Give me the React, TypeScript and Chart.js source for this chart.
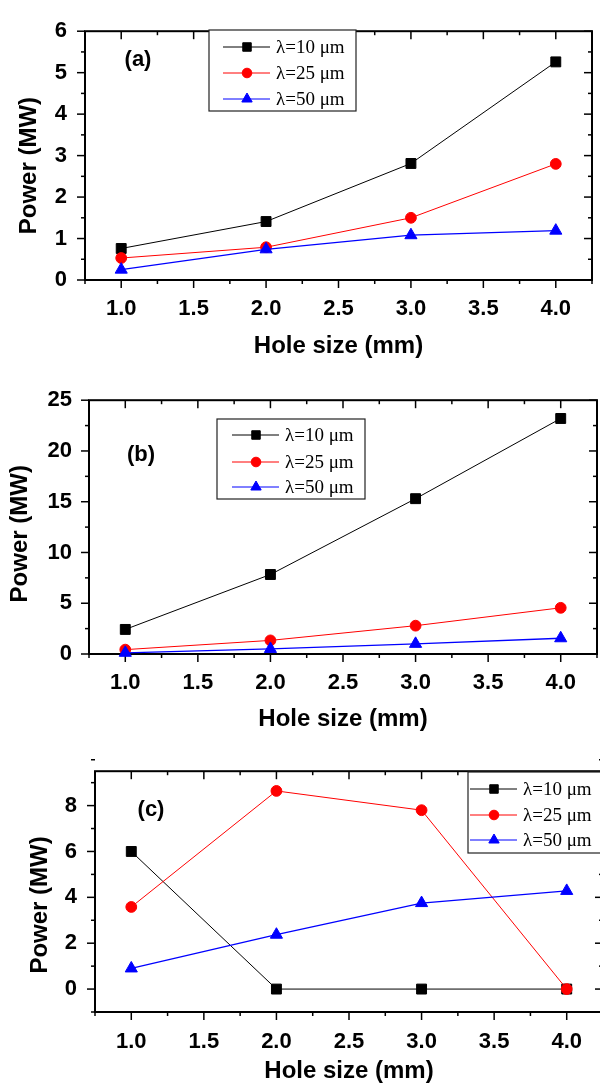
import React, { useEffect, useRef } from 'react';
import { Chart, registerables } from 'chart.js';
import { drawPoint } from 'chart.js/helpers';

Chart.register(...registerables);

// ---------- data ----------
const holeSizes = [1.0, 2.0, 3.0, 4.0];
const seriesLabels = ['λ=10 μm', 'λ=25 μm', 'λ=50 μm'];
const xTickValues = [1.0, 1.5, 2.0, 2.5, 3.0, 3.5, 4.0];
const panelLabels = ['(a)', '(b)', '(c)'];
const xTitle = 'Hole size (mm)';
const yTitle = 'Power (MW)';

const powerA10 = [0.76, 1.41, 2.81, 5.26];
const powerA25 = [0.53, 0.79, 1.5, 2.8];
const powerA50 = [0.25, 0.74, 1.08, 1.19];
const yTicksA = [0, 1, 2, 3, 4, 5, 6];

const powerB10 = [2.42, 7.83, 15.3, 23.2];
const powerB25 = [0.43, 1.34, 2.79, 4.55];
const powerB50 = [0.12, 0.5, 1.0, 1.55];
const yTicksB = [0, 5, 10, 15, 20, 25];

const powerC10 = [6.0, 0, 0, 0];
const powerC25 = [3.58, 8.64, 7.8, 0];
const powerC50 = [0.9, 2.37, 3.75, 4.28];
const yTicksC = [0, 2, 4, 6, 8];

// ---------- styles ----------
const colors = ['#000000', '#ff0000', '#0000ff'];
const pointStyles = ['rect', 'circle', 'triangle'];
const pointRadii = [7, 5.4, 7];
const legendRadii = [6, 4.8, 6];
const SANS = '"Liberation Sans", Arial, Helvetica, sans-serif';
const SERIF = '"Liberation Serif", "Times New Roman", serif';

type Layout = {
  top: number; width: number; height: number;
  padding: { left: number; right: number; top: number; bottom: number };
  yWidth: number; xHeight: number;
  yMin: number; yMax: number; yMinor: number;
  yTicks: number[];
  yTickPad: number; xTickPad: number;
  yTitleSpaces: number;
  legend: { box: number[]; rows: number[]; x1: number; x2: number; mx: number; tx: number };
  label: number[];
  labelText: string;
};

const layouts: Layout[] = [
  {
    top: 0, width: 600, height: 365,
    padding: { left: 15, right: 8, top: 17, bottom: 4 },
    yWidth: 70, xHeight: 81,
    yMin: 0, yMax: 6, yMinor: 0.5, yTicks: yTicksA,
    yTickPad: 18, xTickPad: 16, yTitleSpaces: 3,
    legend: { box: [209, 30, 147, 81], rows: [47, 73, 99], x1: 223, x2: 270, mx: 247, tx: 276 },
    label: [138, 60], labelText: panelLabels[0],
  },
  {
    top: 370, width: 600, height: 370,
    padding: { left: 6, right: 3, top: 30, bottom: 6 },
    yWidth: 83, xHeight: 80,
    yMin: 0, yMax: 25, yMinor: 2.5, yTicks: yTicksB,
    yTickPad: 17, xTickPad: 16, yTitleSpaces: 2,
    legend: { box: [217, 49, 148, 80], rows: [65, 92, 117], x1: 232, x2: 279, mx: 256, tx: 285 },
    label: [141, 85], labelText: panelLabels[1],
  },
  {
    top: 740, width: 610, height: 350,
    padding: { left: 26, right: 7, top: 31, bottom: 4 },
    yWidth: 69, xHeight: 74,
    yMin: -1, yMax: 9.5, yMinor: 1, yTicks: yTicksC,
    yTickPad: 18, xTickPad: 17, yTitleSpaces: 4,
    legend: { box: [468, 32, 180, 81], rows: [49, 75, 100], x1: 470, x2: 517, mx: 494, tx: 523 },
    label: [151, 70], labelText: panelLabels[2],
  },
];

const panelSeries = [
  [powerA10, powerA25, powerA50],
  [powerB10, powerB25, powerB50],
  [powerC10, powerC25, powerC50],
];

// ---------- plugins ----------
const framePlugin = {
  id: 'originFrame',
  beforeDatasetsDraw(chart: any, _args: any, opts: any) {
    const { ctx, chartArea } = chart;
    const { left, right, top, bottom } = chartArea;
    const xs = chart.scales.x;
    const ys = chart.scales.y;
    const MAJ = 8, MIN = 4;
    ctx.save();
    ctx.strokeStyle = '#000';
    ctx.lineWidth = 1.5;
    const seg = (x1: number, y1: number, x2: number, y2: number) => {
      ctx.beginPath(); ctx.moveTo(x1, y1); ctx.lineTo(x2, y2); ctx.stroke();
    };
    const xMajors = xs.ticks.map((t: any) => t.value);
    const nx = Math.round((xs.max - xs.min) / opts.xMinor);
    for (let i = 0; i <= nx; i++) {
      const v = xs.min + i * opts.xMinor;
      const isMaj = xMajors.some((m: number) => Math.abs(m - v) < 1e-6);
      const len = isMaj ? MAJ : MIN;
      const p = xs.getPixelForValue(v);
      seg(p, bottom, p, bottom + len);
      seg(p, top, p, top + len);
    }
    const yMajors = ys.ticks.map((t: any) => t.value);
    const ny = Math.round((ys.max - ys.min) / opts.yMinor);
    for (let i = 0; i <= ny; i++) {
      const v = ys.min + i * opts.yMinor;
      const isMaj = yMajors.some((m: number) => Math.abs(m - v) < 1e-6);
      const len = isMaj ? MAJ : MIN;
      const p = ys.getPixelForValue(v);
      seg(left - len, p, left, p);
      seg(right - len, p, right, p);
    }
    ctx.lineWidth = 2;
    ctx.strokeRect(left, top, right - left, bottom - top);
    ctx.restore();
  },
};

const legendPlugin = {
  id: 'boxLegend',
  afterDatasetsDraw(chart: any, _args: any, opts: any) {
    const { ctx } = chart;
    const lg = opts.legend;
    ctx.save();
    ctx.fillStyle = '#ffffff';
    ctx.fillRect(lg.box[0], lg.box[1], lg.box[2], lg.box[3]);
    ctx.strokeStyle = '#222';
    ctx.lineWidth = 1.2;
    ctx.strokeRect(lg.box[0], lg.box[1], lg.box[2], lg.box[3]);
    chart.data.datasets.forEach((ds: any, i: number) => {
      const y = lg.rows[i];
      ctx.strokeStyle = ds.borderColor;
      ctx.lineWidth = 1;
      ctx.beginPath(); ctx.moveTo(lg.x1, y); ctx.lineTo(lg.x2, y); ctx.stroke();
      ctx.fillStyle = ds.pointBackgroundColor;
      ctx.strokeStyle = ds.pointBorderColor;
      drawPoint(ctx, { pointStyle: ds.pointStyle, rotation: 0, radius: opts.legendRadii[i], borderWidth: 1 }, lg.mx, y);
      ctx.fillStyle = '#000';
      ctx.font = `19px ${SERIF}`;
      ctx.textAlign = 'left';
      ctx.textBaseline = 'middle';
      ctx.fillText(ds.label, lg.tx, y + 1);
    });
    ctx.fillStyle = '#000';
    ctx.font = `bold 22px ${SANS}`;
    ctx.textAlign = 'center';
    ctx.textBaseline = 'middle';
    ctx.fillText(opts.labelText, opts.label[0], opts.label[1]);
    ctx.restore();
  },
};

function Panel({ L, series }: { L: Layout; series: number[][] }) {
  const ref = useRef<HTMLCanvasElement>(null);
  useEffect(() => {
    const canvas = ref.current;
    if (!canvas) return;
    const chart = new Chart(canvas, {
      type: 'line',
      data: {
        datasets: series.map((vals, i) => ({
          label: seriesLabels[i],
          data: holeSizes.map((x, j) => ({ x, y: vals[j] })),
          borderColor: colors[i],
          backgroundColor: colors[i],
          pointBackgroundColor: colors[i],
          pointBorderColor: colors[i],
          pointStyle: pointStyles[i],
          pointRadius: pointRadii[i],
          pointBorderWidth: 1,
          borderWidth: i === 2 ? 1.3 : 1,
          tension: 0,
          clip: false,
          order: 2 - i,
        })),
      },
      options: {
        responsive: false,
        animation: false,
        devicePixelRatio: 1,
        layout: { padding: L.padding, autoPadding: false },
        plugins: {
          legend: { display: false },
          tooltip: { enabled: false },
          originFrame: { xMinor: 0.25, yMinor: L.yMinor },
          boxLegend: { legend: L.legend, label: L.label, labelText: L.labelText, legendRadii },
        },
        scales: {
          x: {
            type: 'linear',
            position: 'bottom',
            min: 0.75,
            max: 4.25,
            afterBuildTicks: (s: any) => { s.ticks = xTickValues.map((v) => ({ value: v })); },
            afterFit: (s: any) => { s.height = L.xHeight; },
            grid: { display: false, drawTicks: false, tickLength: 0 },
            border: { display: false },
            ticks: {
              autoSkip: false,
              maxRotation: 0,
              padding: L.xTickPad,
              color: '#000',
              font: { family: SANS, size: 22, weight: 'bold' },
              callback: (v: any) => Number(v).toFixed(1),
            },
            title: {
              display: true,
              text: xTitle,
              color: '#000',
              padding: { top: 0, bottom: 0 },
              font: { family: SANS, size: 24, weight: 'bold' },
            },
          },
          y: {
            type: 'linear',
            position: 'left',
            min: L.yMin,
            max: L.yMax,
            afterBuildTicks: (s: any) => { s.ticks = L.yTicks.map((v) => ({ value: v })); },
            afterFit: (s: any) => { s.width = L.yWidth; },
            grid: { display: false, drawTicks: false, tickLength: 0 },
            border: { display: false },
            ticks: {
              autoSkip: false,
              padding: L.yTickPad,
              color: '#000',
              font: { family: SANS, size: 22, weight: 'bold' },
              callback: (v: any) => String(v),
            },
            title: {
              display: true,
              text: yTitle + ' '.repeat(L.yTitleSpaces),
              color: '#000',
              padding: { top: 0, bottom: 0 },
              font: { family: SANS, size: 24, weight: 'bold' },
            },
          },
        },
      } as any,
      plugins: [framePlugin, legendPlugin],
    });
    return () => chart.destroy();
  }, []);
  return (
    <canvas
      ref={ref}
      width={L.width}
      height={L.height}
      style={{ position: 'absolute', left: 0, top: L.top, width: L.width, height: L.height }}
    />
  );
}

export default function App() {
  return (
    <div
      style={{
        position: 'fixed', left: 0, top: 0, width: 600, height: 1084,
        overflow: 'hidden', background: '#ffffff',
      }}
    >
      {layouts.map((L, i) => (
        <Panel key={i} L={L} series={panelSeries[i]} />
      ))}
    </div>
  );
}
